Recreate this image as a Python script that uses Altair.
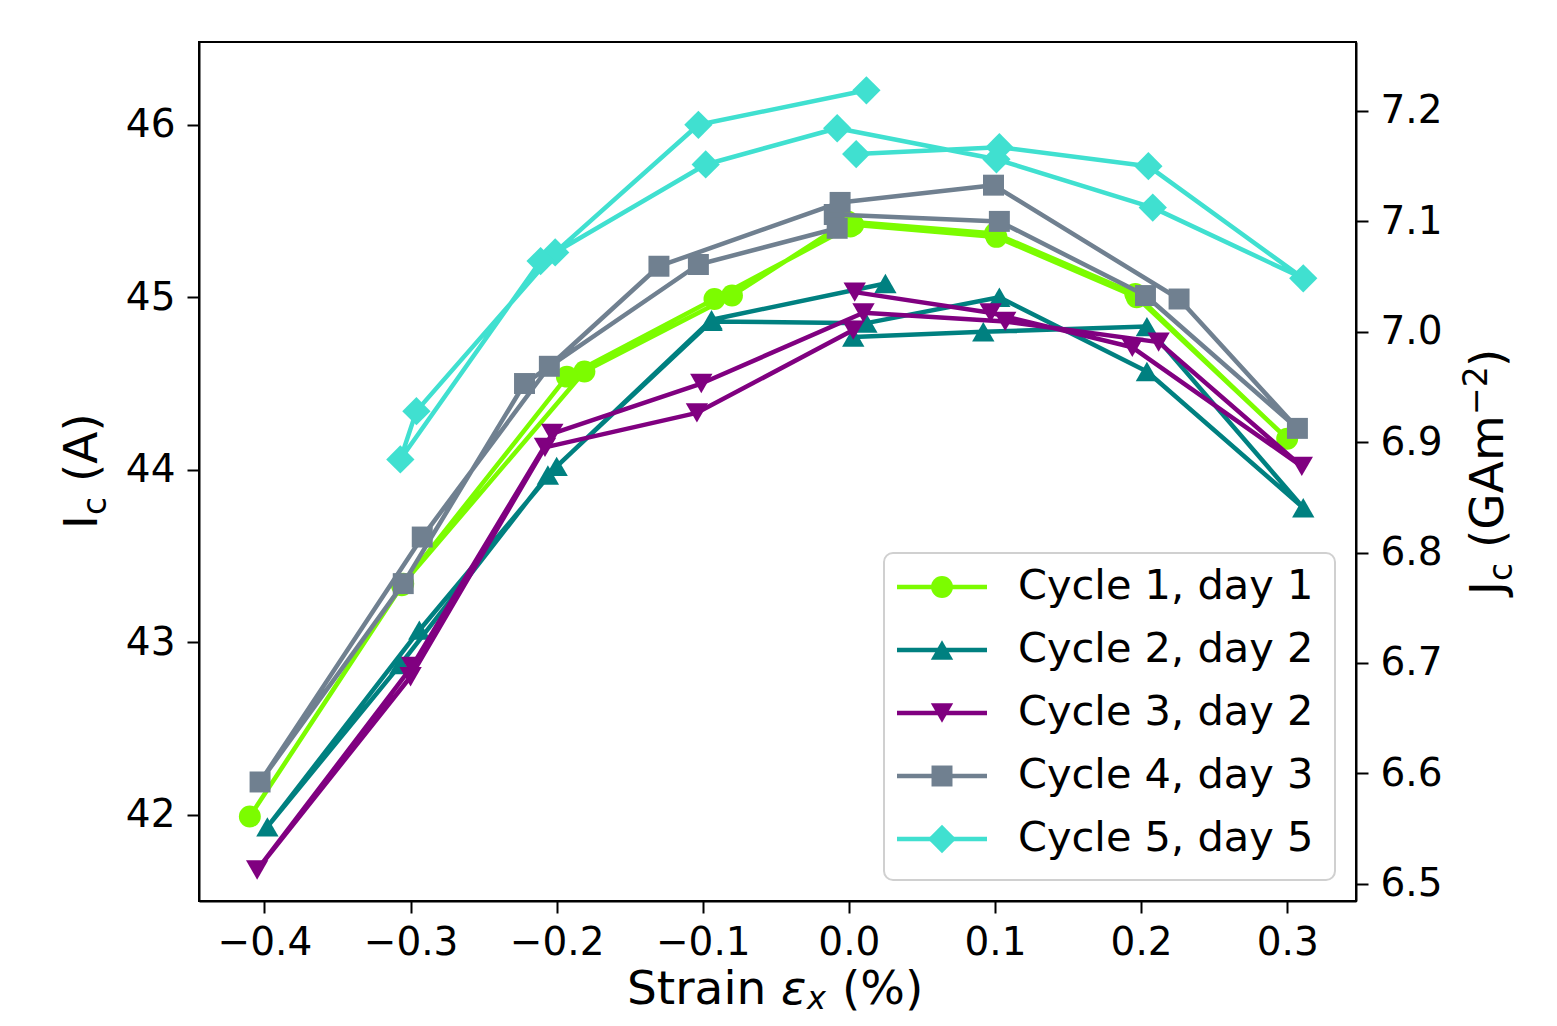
import altair as alt
import pandas as pd

FONT = "DejaVu Sans"

names = ["Cycle 1, day 1", "Cycle 2, day 2", "Cycle 3, day 2", "Cycle 4, day 3", "Cycle 5, day 5"]
colors = ["#7CFC00", "#008080", "#800080", "#708090", "#40E0D0"]
shapes = ["circle", "triangle-up", "triangle-down", "square", "diamond"]
sizes = [480, 500, 500, 440, 800]

# strain (%) and critical current Ic (A), in measurement order
strain_1 = [0.003, 0.101, 0.197, 0.300, 0.196, 0.100, -0.001, -0.080, -0.181, -0.305, -0.410, -0.306, -0.193, -0.092, 0.001]
ic_1 = [45.42, 45.35, 45.00, 44.18, 45.02, 45.37, 45.44, 45.01, 44.57, 43.34, 41.99, 43.33, 44.54, 44.99, 45.41]

strain_2 = [0.003, 0.092, 0.204, 0.311, 0.204, 0.103, 0.012, -0.094, -0.200, -0.294, -0.398, -0.307, -0.206, -0.094, 0.025]
ic_2 = [44.77, 44.80, 44.83, 43.78, 44.57, 45.00, 44.85, 44.86, 44.02, 43.07, 41.93, 42.87, 43.97, 44.87, 45.08]

strain_3 = [0.004, 0.097, 0.194, 0.310, 0.212, 0.107, 0.010, -0.101, -0.203, -0.299, -0.405, -0.300, -0.208, -0.104, 0.003]
ic_3 = [45.03, 44.91, 44.71, 44.02, 44.74, 44.86, 44.91, 44.50, 44.21, 42.86, 41.68, 42.80, 44.13, 44.33, 44.81]

strain_4 = [-0.010, 0.103, 0.203, 0.307, 0.226, 0.099, -0.006, -0.130, -0.205, -0.292, -0.403, -0.305, -0.222, -0.103, -0.008]
ic_4 = [45.48, 45.44, 45.01, 44.24, 44.99, 45.65, 45.55, 45.18, 44.60, 43.61, 42.19, 43.34, 44.50, 45.19, 45.40]

strain_5 = [0.012, -0.103, -0.201, -0.296, -0.307, -0.211, -0.098, -0.008, 0.101, 0.208, 0.311, 0.205, 0.103, 0.005]
ic_5 = [46.20, 46.00, 45.26, 44.34, 44.06, 45.21, 45.77, 45.98, 45.80, 45.52, 45.11, 45.76, 45.87, 45.83]

x_ticks = [-0.4, -0.3, -0.2, -0.1, 0.0, 0.1, 0.2, 0.3]
ic_ticks = [42, 43, 44, 45, 46]
jc_ticks = [6.5, 6.6, 6.7, 6.8, 6.9, 7.0, 7.1, 7.2]
J_DIVISOR = 6.4  # Jc (GA/m^2) = Ic / 6.4

rows = []
for name, ss, vv in zip(names, [strain_1, strain_2, strain_3, strain_4, strain_5],
                        [ic_1, ic_2, ic_3, ic_4, ic_5]):
    for i, (s, v) in enumerate(zip(ss, vv)):
        rows.append({"cycle": name, "seq": i, "strain": s, "Ic": v})
df = pd.DataFrame(rows)

x_dom = [-0.4448, 0.3471]
y_dom = [41.50, 46.48]

color_scale = alt.Scale(domain=names, range=colors)

x_enc = alt.X("strain:Q", scale=alt.Scale(domain=x_dom, nice=False, zero=False),
              axis=alt.Axis(values=x_ticks, format=".1f", title=None, labelFlush=False,
                            labelOverlap=False, labelPadding=10))
y_enc = alt.Y("Ic:Q", scale=alt.Scale(domain=y_dom, nice=False, zero=False),
              axis=alt.Axis(values=ic_ticks, format="d", title=None, orient="left",
                            labelPadding=12, labelOverlap=False))
c_enc = alt.Color("cycle:N", scale=color_scale, legend=None)

base = alt.Chart(df)
data_layers = []
for name, shp, sz in zip(names, shapes, sizes):
    sub = base.transform_filter(alt.datum.cycle == name)
    data_layers.append(
        sub.mark_line(strokeWidth=4.5, strokeJoin="round").encode(
            x=x_enc, y=y_enc, color=c_enc, order=alt.Order("seq:Q")))
    data_layers.append(
        sub.mark_point(filled=True, opacity=1, strokeWidth=0, shape=shp, size=sz).encode(
            x=x_enc, y=y_enc, color=c_enc))
inner = alt.layer(*data_layers)

j_layer = base.transform_calculate(J=f"datum.Ic / {J_DIVISOR}").mark_point(opacity=0).encode(
    x=x_enc,
    y=alt.Y("J:Q", scale=alt.Scale(domain=[y_dom[0] / J_DIVISOR, y_dom[1] / J_DIVISOR], nice=False, zero=False),
            axis=alt.Axis(values=jc_ticks, format=".1f", title=None, orient="right",
                          labelPadding=12, labelOverlap=False)))

one = pd.DataFrame({"k": [0]})
leg_df = pd.DataFrame({"cycle": names})

box = alt.Chart(one).mark_rect(fill="white", fillOpacity=0.8, stroke="#d0d0d0", strokeWidth=2,
                               cornerRadius=9).encode(
    x=alt.value(685), x2=alt.value(1136), y=alt.value(511), y2=alt.value(838))

y_leg = alt.Y("cycle:N", scale=alt.Scale(type="point", domain=names, range=[545, 797], padding=0), axis=None)
leg_base = alt.Chart(leg_df)
leg_layers = [leg_base.mark_rule(strokeWidth=4.5).encode(
    x=alt.value(698), x2=alt.value(788), y=y_leg, color=c_enc)]
for name, shp, sz in zip(names, shapes, sizes):
    leg_layers.append(
        leg_base.transform_filter(alt.datum.cycle == name)
        .mark_point(filled=True, opacity=1, strokeWidth=0, shape=shp, size=sz)
        .encode(x=alt.value(743), y=y_leg, color=c_enc))
leg_layers.append(leg_base.mark_text(align="left", baseline="middle", font=FONT, fontSize=41.5,
                                     color="black").encode(x=alt.value(819), y=y_leg, text="cycle:N"))
legend = alt.layer(*leg_layers)


def txt(s, x, y, size=47, angle=0, style="normal"):
    kw = dict(text=s, align="left", baseline="alphabetic", font=FONT, fontSize=size,
              fontStyle=style, color="black")
    if angle:
        kw["angle"] = angle
    return alt.Chart(one).mark_text(**kw).encode(x=alt.value(x), y=alt.value(y))


titles = [
    # x title: Strain ε_x (%)
    txt("Strain", 428, 962),
    txt("ε", 582, 962, style="italic"),
    txt("x", 608, 967, size=32, style="italic"),
    txt("(%)", 643, 962),
    # left title: I_c (A)
    txt("I", -102, 487, angle=270),
    txt("c", -93, 473, size=33, angle=270),
    txt("(A)", -102, 440, angle=270),
    # right title: J_c (GAm^-2)
    txt("J", 1304, 553, angle=270),
    txt("c", 1313, 539, size=33, angle=270),
    txt("(GAm", 1304, 506, angle=270),
    txt("\u22122", 1288, 373, size=33, angle=270),
    txt(")", 1304, 325, angle=270),
]

chart = alt.layer(inner, j_layer, box, legend, *titles).resolve_scale(y="independent").properties(
    width=1157, height=859,
    padding={"left": 191, "top": 34, "right": 185, "bottom": 117},
    autosize=alt.AutoSizeParams(type="none"),
).configure(font=FONT).configure_view(stroke="black", strokeWidth=2).configure_axis(
    labelFont=FONT, labelFontSize=39, labelColor="black", tickColor="black", tickSize=12,
    tickWidth=2, domainColor="black", domainWidth=2, grid=False)

chart.save("out.html", embed_options={"renderer": "svg", "actions": False})
